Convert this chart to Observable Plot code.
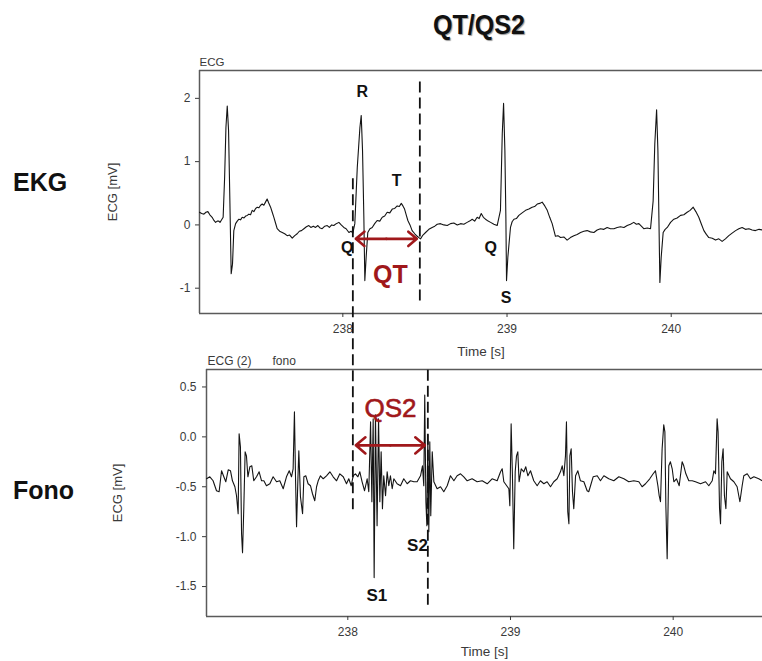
<!DOCTYPE html>
<html>
<head>
<meta charset="utf-8">
<script src="https://cdn.jsdelivr.net/npm/d3@7"></script>
<script src="https://cdn.jsdelivr.net/npm/@observablehq/plot@0.6"></script>
<style>
  body { margin: 0; background: #fff; font-family: "Liberation Sans", Arial, sans-serif; }
  #fig { position: relative; width: 762px; height: 661px; overflow: hidden; background: #fff; }
  #fig svg { position: absolute; left: 0; top: 0; }
  .lbl { position: absolute; white-space: nowrap; color: #111; font-weight: bold; line-height: 1; }
  #title { left: 479px; top: 12px; transform: translateX(-50%) scaleX(0.93); font-size: 27px; text-shadow: 1px 1px 1px #999; }
  #ekg { left: 13px; top: 170px; font-size: 25px; }
  #fono { left: 13px; top: 478px; font-size: 25px; }
</style>
</head>
<body>
<div id="fig">
  <div class="lbl" id="title">QT/QS2</div>
  <div class="lbl" id="ekg">EKG</div>
  <div class="lbl" id="fono">Fono</div>
</div>
<script>
const FONT = '"Liberation Sans", Arial, sans-serif';

// ECG lead: time [s] and amplitude [mV]
const ekgTime = [
  237.127, 237.140, 237.154, 237.166, 237.178, 237.190, 237.204, 237.215, 237.225, 237.235,
  237.245, 237.252, 237.259, 237.271, 237.280, 237.288, 237.296, 237.304, 237.312, 237.320,
  237.328, 237.336, 237.347, 237.357, 237.367, 237.377, 237.387, 237.398, 237.408, 237.418,
  237.428, 237.438, 237.448, 237.458, 237.469, 237.479, 237.489, 237.499, 237.509, 237.519,
  237.529, 237.539, 237.548, 237.560, 237.570, 237.580, 237.590, 237.600, 237.615, 237.631,
  237.646, 237.661, 237.676, 237.692, 237.707, 237.722, 237.735, 237.748, 237.763, 237.778,
  237.793, 237.805, 237.820, 237.834, 237.848, 237.862, 237.874, 237.890, 237.905, 237.918,
  237.932, 237.945, 237.960, 237.976, 237.990, 238.006, 238.020, 238.037, 238.050, 238.061,
  238.073, 238.088, 238.104, 238.112, 238.120, 238.128, 238.134, 238.142, 238.152, 238.165,
  238.179, 238.194, 238.209, 238.225, 238.240, 238.255, 238.270, 238.286, 238.301, 238.316,
  238.331, 238.344, 238.356, 238.366, 238.376, 238.386, 238.396, 238.409, 238.422, 238.438,
  238.453, 238.463, 238.473, 238.488, 238.504, 238.524, 238.544, 238.560, 238.575, 238.595,
  238.615, 238.636, 238.656, 238.676, 238.697, 238.717, 238.737, 238.757, 238.772, 238.788,
  238.803, 238.818, 238.830, 238.843, 238.856, 238.869, 238.885, 238.900, 238.920, 238.940,
  238.960, 238.971, 238.979, 238.987, 238.993, 238.997, 239.005, 239.021, 239.031, 239.042,
  239.057, 239.072, 239.092, 239.113, 239.133, 239.153, 239.168, 239.184, 239.199, 239.214,
  239.230, 239.245, 239.260, 239.275, 239.295, 239.310, 239.326, 239.346, 239.366, 239.386,
  239.407, 239.427, 239.448, 239.468, 239.488, 239.508, 239.529, 239.549, 239.569, 239.590,
  239.610, 239.630, 239.651, 239.671, 239.691, 239.712, 239.732, 239.752, 239.772, 239.788,
  239.803, 239.818, 239.833, 239.854, 239.874, 239.890, 239.900, 239.911, 239.919, 239.925,
  239.931, 239.939, 239.951, 239.963, 239.976, 239.996, 240.016, 240.036, 240.057, 240.077,
  240.097, 240.115, 240.134, 240.150, 240.168, 240.184, 240.199, 240.214, 240.229, 240.250,
  240.270, 240.290, 240.310, 240.330, 240.351, 240.371, 240.392, 240.412, 240.432, 240.452,
  240.473, 240.493, 240.513, 240.535, 240.556
];
const ekgMv = [
  0.20, 0.18, 0.17, 0.20, 0.21, 0.16, 0.12, 0.07, 0.04, 0.06,
  0.06, 0.04, 0.07, 0.12, 0.75, 1.54, 1.88, 1.49, 0.38, -0.77,
  -0.62, -0.09, 0.02, 0.06, 0.09, 0.08, 0.12, 0.11, 0.14, 0.15,
  0.17, 0.16, 0.23, 0.21, 0.26, 0.28, 0.27, 0.31, 0.33, 0.31,
  0.36, 0.41, 0.35, 0.28, 0.20, 0.12, 0.03, -0.06, -0.10, -0.12,
  -0.14, -0.17, -0.16, -0.21, -0.17, -0.14, -0.10, -0.09, -0.06, -0.03,
  -0.01, -0.04, -0.02, -0.04, -0.01, -0.05, -0.06, -0.02, -0.01, -0.04,
  0.00, -0.01, 0.02, 0.04, 0.00, -0.04, -0.06, -0.12, -0.10, -0.13,
  0.02, 0.91, 1.54, 1.73, 1.17, 0.12, -0.88, -0.51, -0.12, -0.06,
  -0.04, 0.02, 0.07, 0.06, 0.12, 0.14, 0.20, 0.19, 0.25, 0.26,
  0.30, 0.29, 0.34, 0.30, 0.25, 0.16, 0.07, 0.00, -0.09, -0.14,
  -0.18, -0.20, -0.22, -0.16, -0.12, -0.07, -0.04, -0.02, 0.01, 0.02,
  0.00, -0.01, 0.02, 0.03, 0.00, 0.02, 0.01, 0.04, 0.06, 0.09,
  0.06, 0.12, 0.10, 0.18, 0.12, 0.09, 0.06, 0.04, 0.01, -0.01,
  0.23, 1.44, 1.92, 1.17, 0.12, -0.88, -0.51, -0.04, 0.05, 0.09,
  0.10, 0.15, 0.19, 0.23, 0.25, 0.28, 0.29, 0.33, 0.34, 0.36,
  0.30, 0.23, 0.12, 0.02, -0.18, -0.17, -0.20, -0.19, -0.24, -0.20,
  -0.17, -0.15, -0.12, -0.10, -0.09, -0.11, -0.12, -0.08, -0.06, -0.07,
  -0.04, -0.06, -0.06, -0.04, -0.03, -0.04, -0.01, 0.01, 0.04, 0.01,
  0.02, -0.02, -0.06, -0.05, -0.06, 0.38, 1.28, 1.82, 1.17, 0.12,
  -0.91, -0.51, -0.12, -0.07, -0.04, 0.04, 0.09, 0.11, 0.15, 0.16,
  0.20, 0.23, 0.28, 0.21, 0.12, 0.01, -0.09, -0.15, -0.20, -0.21,
  -0.24, -0.22, -0.26, -0.22, -0.17, -0.13, -0.09, -0.06, -0.04, -0.07,
  -0.06, -0.08, -0.09, -0.07, -0.08
];

// Phonocardiogram channel "ECG (2) fono": time [s] and amplitude [mV]
const fonoTime = [
  237.132, 237.152, 237.172, 237.193, 237.209, 237.224, 237.238, 237.250, 237.265, 237.279,
  237.291, 237.306, 237.316, 237.326, 237.332, 237.340, 237.347, 237.353, 237.361, 237.369,
  237.377, 237.386, 237.398, 237.410, 237.422, 237.439, 237.455, 237.470, 237.484, 237.500,
  237.521, 237.541, 237.562, 237.582, 237.603, 237.623, 237.640, 237.654, 237.664, 237.672,
  237.679, 237.685, 237.693, 237.699, 237.709, 237.722, 237.730, 237.742, 237.756, 237.771,
  237.783, 237.797, 237.808, 237.818, 237.832, 237.849, 237.869, 237.890, 237.910, 237.931,
  237.951, 237.972, 237.992, 238.006, 238.021, 238.033, 238.047, 238.062, 238.074, 238.088,
  238.103, 238.119, 238.129, 238.140, 238.148, 238.156, 238.162, 238.170, 238.180, 238.189,
  238.197, 238.205, 238.213, 238.221, 238.232, 238.242, 238.252, 238.262, 238.273, 238.283,
  238.303, 238.324, 238.344, 238.365, 238.385, 238.406, 238.426, 238.447, 238.459, 238.467,
  238.473, 238.480, 238.486, 238.492, 238.498, 238.504, 238.510, 238.519, 238.529, 238.549,
  238.570, 238.590, 238.611, 238.631, 238.652, 238.672, 238.693, 238.713, 238.734, 238.764,
  238.795, 238.826, 238.857, 238.887, 238.918, 238.939, 238.949, 238.959, 238.990, 238.996,
  239.004, 239.012, 239.020, 239.029, 239.037, 239.045, 239.053, 239.066, 239.082, 239.094,
  239.107, 239.123, 239.143, 239.164, 239.184, 239.205, 239.225, 239.246, 239.266, 239.287,
  239.307, 239.318, 239.328, 239.338, 239.344, 239.352, 239.359, 239.365, 239.373, 239.381,
  239.389, 239.400, 239.414, 239.430, 239.451, 239.471, 239.481, 239.492, 239.508, 239.533,
  239.553, 239.574, 239.604, 239.635, 239.666, 239.697, 239.727, 239.758, 239.789, 239.809,
  239.830, 239.856, 239.877, 239.891, 239.906, 239.914, 239.922, 239.932, 239.942, 239.949,
  239.955, 239.963, 239.973, 239.983, 239.994, 240.004, 240.020, 240.037, 240.055, 240.065,
  240.078, 240.096, 240.117, 240.137, 240.168, 240.199, 240.219, 240.240, 240.250, 240.260,
  240.270, 240.276, 240.285, 240.291, 240.299, 240.307, 240.315, 240.324, 240.332, 240.352,
  240.373, 240.393, 240.410, 240.424, 240.434, 240.455, 240.475, 240.496, 240.526, 240.549
];
const fonoMv = [
  -0.42, -0.40, -0.44, -0.54, -0.55, -0.34, -0.40, -0.45, -0.33, -0.34,
  -0.44, -0.50, -0.59, -0.77, 0.03, -0.10, -0.97, -1.16, -0.70, -0.15,
  -0.19, -0.40, -0.30, -0.29, -0.44, -0.40, -0.35, -0.44, -0.44, -0.49,
  -0.47, -0.40, -0.45, -0.44, -0.52, -0.40, -0.34, -0.40, -0.32, 0.25,
  -0.44, -0.90, -0.44, -0.14, -0.60, -0.77, -0.40, -0.39, -0.47, -0.49,
  -0.57, -0.64, -0.50, -0.44, -0.39, -0.42, -0.39, -0.35, -0.40, -0.44,
  -0.37, -0.40, -0.47, -0.42, -0.49, -0.39, -0.37, -0.40, -0.35, -0.45,
  -0.54, -0.42, -0.55, 0.15, -0.65, 0.18, -1.41, 0.22, -0.89, 0.18,
  -0.65, -0.15, -0.72, -0.39, -0.59, -0.35, -0.49, -0.39, -0.52, -0.42,
  -0.47, -0.49, -0.42, -0.47, -0.44, -0.45, -0.45, -0.39, -0.29, -0.49,
  0.42, -0.65, -0.89, 0.02, -0.95, -0.05, -0.79, -0.15, -0.45, -0.52,
  -0.50, -0.55, -0.49, -0.39, -0.44, -0.39, -0.37, -0.40, -0.44, -0.42,
  -0.45, -0.44, -0.47, -0.42, -0.44, -0.35, -0.32, -0.45, -0.52, -0.69,
  0.13, -0.39, -1.12, -0.35, -0.19, -0.15, -0.45, -0.32, -0.35, -0.30,
  -0.39, -0.34, -0.44, -0.49, -0.44, -0.47, -0.45, -0.50, -0.45, -0.42,
  -0.35, -0.29, -0.39, -0.19, 0.15, -0.75, -0.87, -0.19, -0.12, -0.55,
  -0.72, -0.39, -0.34, -0.44, -0.45, -0.54, -0.55, -0.49, -0.40, -0.39,
  -0.44, -0.39, -0.42, -0.44, -0.40, -0.42, -0.45, -0.44, -0.45, -0.50,
  -0.47, -0.42, -0.37, -0.34, -0.49, -0.59, -0.65, -0.12, 0.12, 0.05,
  -0.69, -1.22, -0.29, -0.25, -0.32, -0.45, -0.42, -0.49, -0.25, -0.29,
  -0.37, -0.44, -0.44, -0.45, -0.47, -0.45, -0.49, -0.44, -0.34, -0.37,
  0.18, 0.05, -0.72, -0.87, -0.25, -0.12, -0.59, -0.72, -0.35, -0.42,
  -0.45, -0.50, -0.65, -0.49, -0.39, -0.37, -0.42, -0.40, -0.42, -0.44
];

// Axis domains and tick values
const ekgXDomain = [237.127, 240.556];
const ekgYDomain = [-1.40, 2.44];
const fonoXDomain = [237.1315, 240.549];
const fonoYDomain = [-1.80, 0.675];
const timeTicks = [238, 239, 240];
const ekgTicks = [-1, 0, 1, 2];
const fonoTicks = [-1.5, -1.0, -0.5, 0.0, 0.5];

// Interval markers (time in each panel's own axis)
const qOnsetEkg = 238.061;     // Q onset, drawn through both panels
const tEndEkg = 238.469;       // end of T wave
const qOnsetFono = 238.031;    // same Q onset on the fono time axis
const s2Fono = 238.492;        // second heart sound
const qLineSpan = [0.73, -4.56];
const tLineSpan = [2.26, -1.24];
const s2LineSpan = [0.668, -1.708];
const qtArrowLevel = -0.22;
const qs2ArrowLevel = -0.085;

// Wave labels
const ekgLabels = [
  {t: 238.118, v: 2.11, text: "R"},
  {t: 238.327, v: 0.70, text: "T"},
  {t: 238.027, v: -0.36, text: "Q"},
  {t: 238.900, v: -0.36, text: "Q"},
  {t: 238.994, v: -1.15, text: "S"}
];
const fonoLabels = [
  {t: 238.179, v: -1.59, text: "S1"},
  {t: 238.428, v: -1.09, text: "S2"}
];
const intervalLabels = {qt: {t: 238.29, v: -0.785}, qs2: {t: 238.262, v: 0.286}};

const ekgData = ekgTime.map((t, i) => ({t, v: ekgMv[i]}));
const fonoData = fonoTime.map((t, i) => ({t, v: fonoMv[i]}));

const frameColor = "#5a5a5a";
const textColor = "#3a3a3a";
const red = "#a0181b";
const dash = "11,5";

function panelFrame(xDomain, yDomain) {
  return [
    Plot.ruleY(yDomain, {stroke: frameColor, strokeWidth: 1.5}),
    Plot.ruleX([xDomain[0]], {stroke: frameColor, strokeWidth: 1.5})
  ];
}

function doubleArrow(a, b, level) {
  const mid = (a + b) / 2;
  return Plot.arrow([{x1: mid, x2: a}, {x1: mid, x2: b}], {
    x1: "x1", x2: "x2", y1: () => level, y2: () => level,
    stroke: red, strokeWidth: 2.6, headLength: 11, headAngle: 80, insetEnd: 3
  });
}

// Caption text anchored to the panel frame
function caption(text, options) {
  return Plot.text([text], {text: d => d, fill: textColor, lineAnchor: "middle", ...options});
}

const ekgPlot = Plot.plot({
  width: 762, height: 661,
  marginTop: 70, marginLeft: 199, marginRight: 0, marginBottom: 348,
  style: {background: "transparent", color: textColor, fontFamily: FONT, fontSize: "12px", overflow: "visible"},
  x: {domain: ekgXDomain},
  y: {domain: ekgYDomain},
  marks: [
    ...panelFrame(ekgXDomain, ekgYDomain),
    Plot.axisX({ticks: timeTicks, tickSize: 4, tickPadding: 7, tickFormat: d => String(d), label: null, fontSize: 12}),
    Plot.axisY({ticks: ekgTicks, tickSize: 4, tickPadding: 5, tickFormat: d => String(d), label: null, fontSize: 12}),
    caption("ECG [mV]", {frameAnchor: "left", dx: -87, rotate: -90, textAnchor: "middle", fontSize: 13}),
    caption("Time [s]", {frameAnchor: "bottom", dy: 38, textAnchor: "middle", fontSize: 13.5}),
    caption("ECG", {frameAnchor: "top-left", dy: -8, textAnchor: "start", fontSize: 11.5}),
    Plot.line(ekgData, {x: "t", y: "v", stroke: "#141414", strokeWidth: 1.1}),
    Plot.ruleX([qOnsetEkg], {y1: qLineSpan[0], y2: qLineSpan[1], stroke: "#111", strokeWidth: 1.8, strokeDasharray: dash}),
    Plot.ruleX([tEndEkg], {y1: tLineSpan[0], y2: tLineSpan[1], stroke: "#111", strokeWidth: 1.8, strokeDasharray: dash}),
    doubleArrow(qOnsetEkg, tEndEkg, qtArrowLevel),
    Plot.text(ekgLabels, {x: "t", y: "v", text: "text", fontSize: 16, fontWeight: "bold", fill: "#111"}),
    Plot.text([intervalLabels.qt], {x: "t", y: "v", text: () => "QT", fontSize: 25, fontWeight: "bold", fill: red})
  ]
});

const fonoPlot = Plot.plot({
  width: 762, height: 661,
  marginTop: 369, marginLeft: 206, marginRight: 0, marginBottom: 45,
  style: {background: "transparent", color: textColor, fontFamily: FONT, fontSize: "12px", overflow: "visible"},
  x: {domain: fonoXDomain},
  y: {domain: fonoYDomain},
  marks: [
    ...panelFrame(fonoXDomain, fonoYDomain),
    Plot.axisX({ticks: timeTicks, tickSize: 4, tickPadding: 7, tickFormat: d => String(d), label: null, fontSize: 12}),
    Plot.axisY({ticks: fonoTicks, tickSize: 4, tickPadding: 6, tickFormat: d => d.toFixed(1), label: null, fontSize: 12}),
    caption("ECG [mV]", {frameAnchor: "left", dx: -89, rotate: -90, textAnchor: "middle", fontSize: 13}),
    caption("Time [s]", {frameAnchor: "bottom", dy: 35, textAnchor: "middle", fontSize: 13.5}),
    caption("ECG (2)", {frameAnchor: "top-left", dx: 1, dy: -8, textAnchor: "start", fontSize: 12}),
    caption("fono", {frameAnchor: "top-left", dx: 66, dy: -8, textAnchor: "start", fontSize: 12}),
    Plot.line(fonoData, {x: "t", y: "v", stroke: "#141414", strokeWidth: 1.1}),
    Plot.ruleX([s2Fono], {y1: s2LineSpan[0], y2: s2LineSpan[1], stroke: "#111", strokeWidth: 1.8, strokeDasharray: dash}),
    doubleArrow(qOnsetFono, s2Fono, qs2ArrowLevel),
    Plot.text(fonoLabels, {x: "t", y: "v", text: "text", fontSize: 17, fontWeight: "bold", fill: "#111"}),
    Plot.text([intervalLabels.qs2], {x: "t", y: "v", text: () => "QS2", fontSize: 26, fill: red, stroke: red, strokeWidth: 0.6})
  ]
});

const fig = document.getElementById("fig");
fig.appendChild(ekgPlot);
fig.appendChild(fonoPlot);
</script>
</body>
</html>
